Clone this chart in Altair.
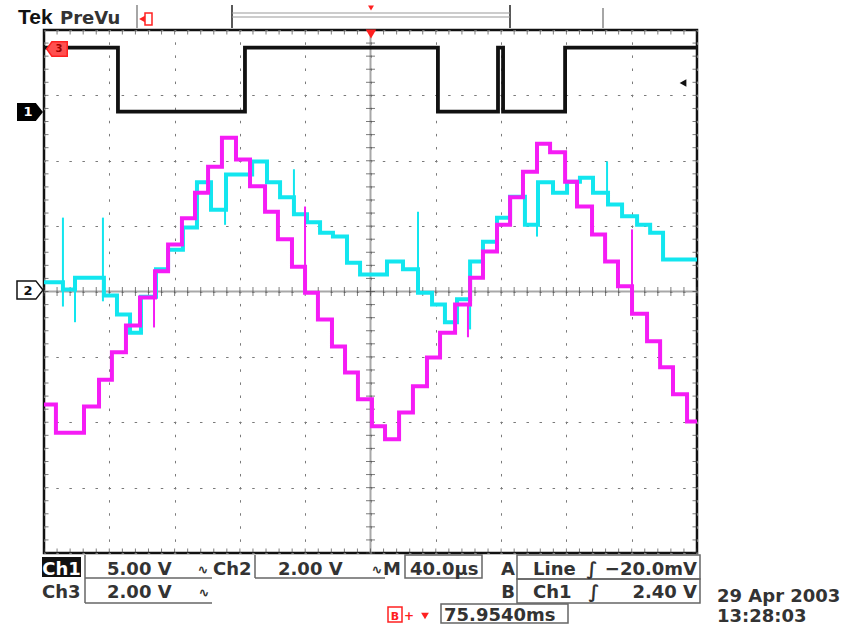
import altair as alt
import pandas as pd
import numpy as np

# ---------------- data (time in µs from trigger, 40 µs/div; vertical in graticule divisions) -------------
ch1_t = [-200, -154.7, -76.9, 41.3, 78.1, 81.2, 119.2, 200]
ch1_v = [3.73, 2.75, 3.73, 2.75, 3.73, 2.75, 3.73, 3.73]

ch2_t = [-200, -188.4, -181.0, -163.3, -155.3, -147.3, -140.6, -131.4, -124.0, -114.9,
         -106.3, -97.7, -88.5, -72.5, -63.4, -55.4, -46.9, -38.9, -30.9, -23.0,
         -14.4, -6.4, 10.1, 19.9, 29.1, 37.7, 45.6, 53.0, 61.0, 68.9,
         77.5, 85.5, 94.6, 102.6, 111.8, 120.4, 128.3, 136.3, 145.5, 154.1,
         163.3, 171.3, 179.2, 200]
ch2_v = [0.14, 0.03, 0.21, -0.06, -0.35, -0.63, -0.08, 0.34, 0.64, 0.98,
         1.67, 1.25, 1.79, 1.99, 1.67, 1.44, 1.18, 1.06, 0.90, 0.84,
         0.44, 0.26, 0.46, 0.34, -0.02, -0.20, -0.47, -0.12, 0.46, 0.76,
         1.13, 1.45, 1.02, 1.67, 1.51, 1.68, 1.74, 1.51, 1.33, 1.15,
         1.02, 0.90, 0.49, 0.49]
ch2_spike_t = [-188.4, -181.0, -163.9, -89.1, -46.9, 29.1, 61.0, 102.0, 144.9]
ch2_spike_lo = [-0.23, -0.47, -0.15, 1.02, 1.44, 0.34, -0.58, 0.84, 1.51]
ch2_spike_hi = [1.13, 0.03, 1.13, 1.25, 1.87, 1.22, -0.12, 1.02, 1.99]

ch3_t = [-200, -192.7, -175.5, -166.3, -158.4, -149.8, -141.2, -132.0, -124.0, -115.5,
         -107.5, -99.5, -91.0, -82.4, -73.8, -64.6, -56.7, -48.1, -40.1, -32.2,
         -23.6, -15.6, -7.7, 0.9, 8.9, 17.5, 26.0, 34.6, 42.6, 51.8,
         61.0, 68.9, 77.5, 85.5, 93.4, 102.0, 110.0, 119.2, 126.5, 135.7,
         143.7, 151.6, 160.2, 169.4, 177.4, 185.3, 193.9, 200]
ch3_v = [-1.73, -2.16, -1.76, -1.35, -0.93, -0.52, -0.09, 0.31, 0.72, 1.12,
         1.51, 1.91, 2.35, 2.02, 1.61, 1.22, 0.80, 0.38, -0.02, -0.43,
         -0.84, -1.24, -1.65, -2.06, -2.26, -1.85, -1.45, -1.01, -0.63, -0.20,
         0.21, 0.61, 1.02, 1.44, 1.83, 2.26, 2.13, 1.68, 1.30, 0.87,
         0.46, 0.08, -0.34, -0.76, -1.16, -1.57, -1.99, -1.99]
ch3_spike_t = [-132.6, -40.1, 59.7, 160.2]
ch3_spike_lo = [-0.55, -0.02, -0.70, -0.34]
ch3_spike_hi = [-0.09, 1.30, -0.20, 0.95]

# readout texts
ch1_scale = "5.00 V"
ch2_scale = "2.00 V"
ch3_scale = "2.00 V"
time_scale = "40.0µs"
trig_a = ("Line", "−20.0mV")
trig_b = ("Ch1", "2.40 V")
delay = "75.9540ms"
date_str = "29 Apr 2003"
time_str = "13:28:03"

# ---------------- layout ----------------
L, T = 44, 30          # plot origin in the page
W, H = 653, 523        # plot area (10 x 8 divisions)

xs = alt.Scale(domain=[-200, 200], nice=False, zero=False)
ys = alt.Scale(domain=[-4, 4], nice=False, zero=False)
xaxis = alt.Axis(values=list(range(-200, 201, 40)), grid=True, gridColor="#7a7a7a",
                 gridDash=[2.5, 10.58], gridDashOffset=1.25, gridWidth=1,
                 labels=False, ticks=False, domain=False, title=None)
yaxis = alt.Axis(values=list(range(-4, 5)), grid=True, gridColor="#7a7a7a",
                 gridDash=[2.5, 10.56], gridDashOffset=1.25, gridWidth=1,
                 labels=False, ticks=False, domain=False, title=None)


def X(f="t"):
    return alt.X(f"{f}:Q", scale=xs, axis=xaxis)


def Y(f="v"):
    return alt.Y(f"{f}:Q", scale=ys, axis=yaxis)


def base():
    return alt.Chart(pd.DataFrame({"k": [0]}))


def txt(s, x, y, align="left", size=18, color="#333333", weight="bold", font="DejaVu Sans",
        baseline="alphabetic"):
    return base().mark_text(text=s, align=align, baseline=baseline, fontSize=size, font=font,
                            fontWeight=weight, color=color).encode(
        x=alt.value(x - L), y=alt.value(y - T))


def rule(x1, y1, x2, y2, color="#666666", w=1.5):
    return base().mark_rule(color=color, strokeWidth=w).encode(
        x=alt.value(x1 - L), y=alt.value(y1 - T), x2=alt.value(x2 - L), y2=alt.value(y2 - T))


def box(x1, y1, x2, y2, fill="none", stroke=None, w=1.5):
    kw = dict(fill=fill)
    if stroke:
        kw.update(stroke=stroke, strokeWidth=w)
    return base().mark_rect(**kw).encode(
        x=alt.value(x1 - L), y=alt.value(y1 - T), x2=alt.value(x2 - L), y2=alt.value(y2 - T))


def sym(shape, x, y, size, fill, stroke=None, w=1.5):
    kw = dict(shape=shape, size=size, filled=True, fill=fill, opacity=1, fillOpacity=1)
    if stroke:
        kw.update(stroke=stroke, strokeWidth=w)
    else:
        kw.update(strokeWidth=0)
    return base().mark_point(**kw).encode(x=alt.value(x - L), y=alt.value(y - T))


# ---------------- graticule ----------------
minor_t = np.round(np.arange(-200, 200.01, 8), 3)
minor_v = np.round(np.arange(-4, 4.001, 0.2), 3)

grid = alt.Chart(pd.DataFrame({"t": [0.0], "v": [0.0]})).mark_point(opacity=0).encode(x=X(), y=Y())
center_h = alt.Chart(pd.DataFrame({"v": [0.0]})).mark_rule(color="#a8a8a8", strokeWidth=2).encode(y=Y())
center_v = alt.Chart(pd.DataFrame({"t": [0.0]})).mark_rule(color="#a8a8a8", strokeWidth=2).encode(x=X())

tick_h = alt.Chart(pd.DataFrame({"t": minor_t, "v": 0.0})).mark_tick(
    orient="vertical", size=9, thickness=1, color="#444444").encode(x=X(), y=Y())
tick_v = alt.Chart(pd.DataFrame({"t": 0.0, "v": minor_v})).mark_tick(
    orient="horizontal", size=9, thickness=1, color="#444444").encode(x=X(), y=Y())
edge_tb = alt.Chart(pd.DataFrame({"t": np.concatenate([minor_t, minor_t]),
                                  "v": [4.0] * len(minor_t) + [-4.0] * len(minor_t)})).mark_tick(
    orient="vertical", size=9, thickness=1, color="#444444", clip=True).encode(x=X(), y=Y())
edge_lr = alt.Chart(pd.DataFrame({"t": [-200.0] * len(minor_v) + [200.0] * len(minor_v),
                                  "v": np.concatenate([minor_v, minor_v])})).mark_tick(
    orient="horizontal", size=9, thickness=1, color="#444444", clip=True).encode(x=X(), y=Y())


# ---------------- traces ----------------
def trace(t, v, color, w):
    df = pd.DataFrame({"t": t, "v": v, "i": range(len(t))})
    return alt.Chart(df).mark_line(interpolate="step-after", color=color, strokeWidth=w,
                                   clip=True).encode(x=X(), y=Y(), order="i:Q")


def spikes(t, lo, hi, color):
    df = pd.DataFrame({"t": t, "lo": lo, "hi": hi})
    return alt.Chart(df).mark_rule(color=color, strokeWidth=2, clip=True).encode(
        x=X(), y=Y("lo"), y2="hi:Q")


CYAN = "#12e6ef"
MAG = "#f51cf5"
RED = "#ff2020"

layers = [grid, center_h, center_v, tick_h, tick_v, edge_tb, edge_lr,
          trace(ch1_t, ch1_v, "#111111", 3.8),
          trace(ch2_t, ch2_v, CYAN, 4), spikes(ch2_spike_t, ch2_spike_lo, ch2_spike_hi, CYAN),
          trace(ch3_t, ch3_v, MAG, 4), spikes(ch3_spike_t, ch3_spike_lo, ch3_spike_hi, MAG)]

# ---------------- channel markers ----------------
right_tag = "M-1,-0.7L0.45,-0.7L1,0L0.45,0.7L-1,0.7Z"
left_tag = "M-1,0L-0.5,-0.7L1,-0.7L1,0.7L-0.5,0.7Z"
layers += [
    sym(right_tag, 30, 112, 676, "#000000"),
    txt("1", 28, 112, align="center", size=13, color="#ffffff", baseline="middle"),
    sym(right_tag, 30, 290, 676, "#ffffff", stroke="#111111", w=1.5),
    txt("2", 28, 291, align="center", size=13, color="#111111", baseline="middle"),
    sym(left_tag, 57, 49, 420, "#ff5050", stroke=RED, w=1.5),
    txt("3", 59, 49, align="center", size=10, color="#a00000", baseline="middle"),
    sym("triangle-left", 683, 83, 60, "#111111"),
    sym("triangle-down", 371, 34, 110, RED),
]

# ---------------- top bar ----------------
layers += [
    txt("Tek", 18, 24, size=21, color="#111111", font="Liberation Sans"),
    txt("PreVu", 60, 24, size=18, color="#333333"),
    rule(137, 5, 137, 28, color="#888888", w=1.5),
    rule(232, 5, 232, 28, color="#222222", w=1.5),
    rule(510, 5, 510, 28, color="#222222", w=1.5),
    rule(603, 8, 603, 28, color="#888888", w=1.5),
    rule(232, 13, 510, 13, color="#999999", w=1.2),
    rule(232, 17, 510, 17, color="#999999", w=1.2),
    sym("triangle-left", 142, 19, 45, RED),
    box(145, 13, 152, 25, fill="none", stroke=RED, w=1.5),
    sym("triangle-down", 371, 8, 35, RED),
]

# ---------------- bottom readouts ----------------
R1, R2 = 575, 598
layers += [
    box(42, 557, 81, 577, fill="#111111"),
    txt("Ch1", 61.5, R1, align="center", color="#ffffff"),
    rule(85, 555, 85, 578), rule(85, 578, 212, 578),
    txt(ch1_scale, 107, R1),
    txt("∿", 203, R1 - 1, align="center", size=13),
    txt("Ch2", 213, R1),
    rule(255, 555, 255, 578), rule(255, 578, 385, 578),
    txt(ch2_scale, 278, R1),
    txt("∿", 377, R1 - 1, align="center", size=13),
    txt("M", 383, R1),
    box(405, 555, 482, 578, fill="none", stroke="#666666"),
    txt(time_scale, 410, R1),
    txt("Ch3", 42, R2),
    rule(85, 578, 85, 603), rule(85, 603, 212, 603),
    txt(ch3_scale, 107, R2),
    txt("∿", 204, R2 - 1, align="center", size=13),
    txt("A", 508, R1, align="center"),
    txt("B", 508, R2, align="center"),
    box(517, 555, 700, 579, fill="none", stroke="#666666"),
    box(517, 579, 700, 603, fill="none", stroke="#666666"),
    txt(trig_a[0], 533, R1),
    txt("∫", 592, R1, align="center"),
    txt(trig_a[1], 697, R1, align="right"),
    txt(trig_b[0], 533, R2),
    txt("∫", 594, R2, align="center"),
    txt(trig_b[1], 697, R2, align="right"),
    box(388, 607, 402, 622, fill="none", stroke=RED, w=1.5),
    txt("B", 395, 620, align="center", size=11, color=RED),
    txt("+", 409, 620, align="center", size=12, color=RED),
    sym("triangle-down", 425, 616, 60, RED),
    box(441, 604, 568, 623, fill="none", stroke="#666666"),
    txt(delay, 444, 621),
    txt(date_str, 717, 602, size=18),
    txt(time_str, 717, 622, size=18),
]

chart = alt.layer(*layers).properties(
    width=W, height=H,
    autosize=alt.AutoSizeParams(type="none"),
    padding={"left": L, "top": T, "right": 861 - L - W, "bottom": 627 - T - H},
    background="white",
).configure_view(stroke="#111111", strokeWidth=2.5)

chart.save("out.html", embed_options={"renderer": "svg", "actions": False})
